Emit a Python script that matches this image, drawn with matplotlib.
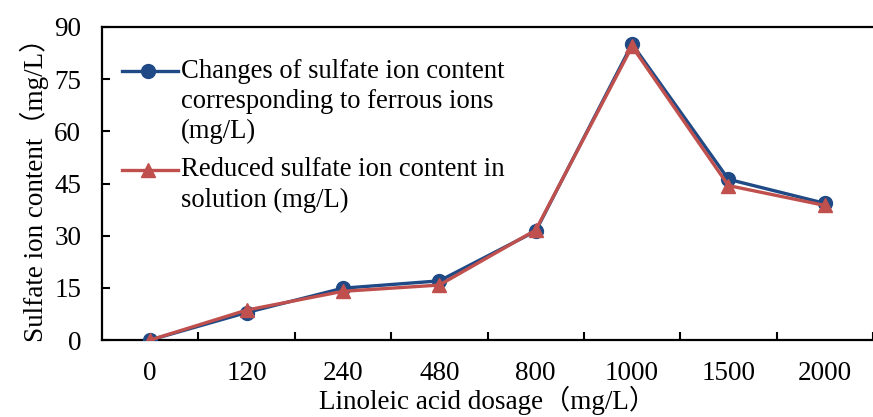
import matplotlib
matplotlib.use("Agg")
import matplotlib.pyplot as plt
from matplotlib.lines import Line2D

categories = ["0", "120", "240", "480", "800", "1000", "1500", "2000"]
ferrous_sulfate = [0, 7.9, 14.9, 17.0, 31.3, 85.1, 46.2, 39.3]
reduced_sulfate = [0, 8.6, 14.0, 15.8, 31.6, 84.4, 44.4, 38.7]
yticks = [0, 15, 30, 45, 60, 75, 90]
legend_1 = ["Changes of sulfate ion content", "corresponding to ferrous ions", "(mg/L)"]
legend_2 = ["Reduced sulfate ion content in", "solution (mg/L)"]

FONT = ["Liberation Serif", "Noto Sans CJK SC"]
plt.rcParams["font.family"] = FONT

W, H = 873, 417
fig = plt.figure(figsize=(W / 100, H / 100), dpi=100)
ax = fig.add_axes([102 / W, 1 - 340 / H, 1 - 102 / W, (340 - 27) / H])

blue = "#1F4A86"
red = "#C0504D"
LW = 2.4
MS = 10
x = list(range(len(categories)))
ax.plot(x, ferrous_sulfate, color=blue, lw=LW, marker="o", ms=MS, zorder=3)
ax.plot(x, reduced_sulfate, color=red, lw=LW, marker="^", ms=MS, zorder=4)

FS = 19.5
ax.set_xlim(-0.5, 7.38)
ax.set_ylim(0, 90)
ax.set_yticks(yticks)
ax.set_yticklabels([str(v) for v in yticks], fontsize=FS)
ax.set_xticks(x)
ax.set_xticklabels(categories, fontsize=FS)
ax.set_xticks([i + 0.5 for i in range(len(categories))], minor=True)
ax.tick_params(axis="x", which="major", length=0, pad=15)
ax.tick_params(axis="x", which="minor", direction="in", length=6, width=1.5)
ax.tick_params(axis="y", direction="in", length=6, width=1.5, pad=15)

for s in ["left", "bottom", "top"]:
    ax.spines[s].set_linewidth(1.6)
    ax.spines[s].set_color("black")
ax.spines["right"].set_visible(False)

ax.set_ylabel("Sulfate ion content（mg/L）", fontsize=FS, labelpad=4)
ax.set_xlabel("Linoleic acid dosage（mg/L）", fontsize=FS, labelpad=0)

def fx(px):
    return px / W

def fy(py):
    return 1 - py / H

for (color, marker, ylines, texts) in [
    (blue, "o", [71, 101, 131], legend_1),
    (red, "^", [170, 200], legend_2),
]:
    fig.add_artist(Line2D([fx(122), fx(178)], [fy(ylines[0]), fy(ylines[0])],
                          color=color, lw=LW, transform=fig.transFigure))
    fig.add_artist(Line2D([fx(148)], [fy(ylines[0])], color=color, marker=marker,
                          ms=MS, lw=0, transform=fig.transFigure))
    for yy, t in zip(ylines, texts):
        fig.text(fx(181), fy(yy), t, fontsize=19.2, va="center", ha="left")

fig.savefig("out.png", dpi=100)
